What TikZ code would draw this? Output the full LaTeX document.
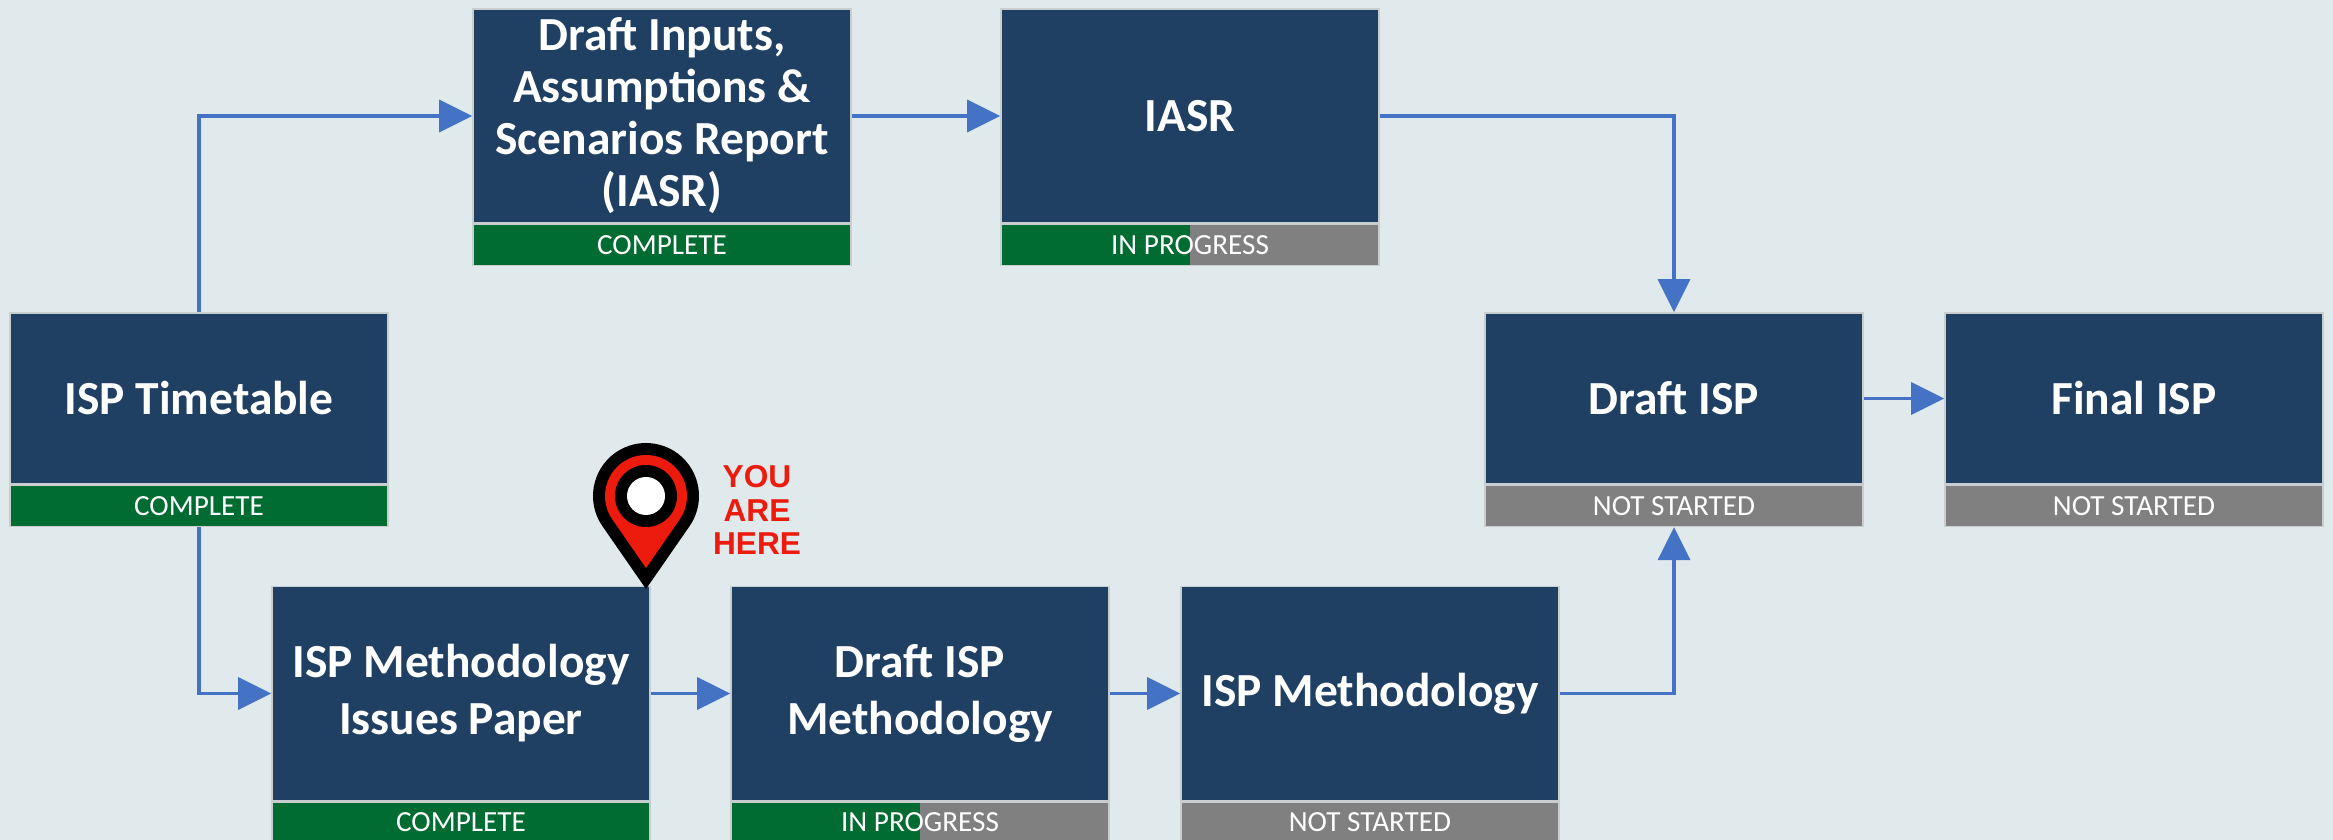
\documentclass[tikz,border=0pt]{standalone}
\usepackage{fontspec}
\setmainfont{Carlito}
\newfontfamily\heros{Liberation Sans}
\usepackage{tikz}
\usepackage{xcolor}
\usetikzlibrary{arrows.meta}
\definecolor{bgcol}{RGB}{224,233,235}
\definecolor{navy}{RGB}{31,64,99}
\definecolor{done}{RGB}{0,108,49}
\definecolor{todo}{RGB}{128,128,128}
\definecolor{flow}{RGB}{68,114,196}
\definecolor{pinred}{RGB}{237,27,13}
\definecolor{edge}{RGB}{200,205,208}

\begin{document}
\begin{tikzpicture}[x=0.01cm, y=0.01cm,
  stage/.style={fill=navy, draw=edge, line width=0.4pt, text=white, minimum width=3.78cm, align=center, inner sep=0pt, font=\fontsize{13.5}{16.2}\selectfont\bfseries},
  tall/.style={stage, minimum height=2.14cm},
  short/.style={stage, minimum height=1.71cm},
  status/.style={draw=edge, line width=0.4pt, text=white, minimum width=3.78cm, minimum height=0.41cm, anchor=north, inner sep=0pt, font=\fontsize{8.3}{10}\selectfont},
  complete/.style={status, fill=done},
  notstarted/.style={status, fill=todo},
  inprogress/.style={status, fill=todo, path picture={\fill[done] (path picture bounding box.south west) rectangle (path picture bounding box.north);}},
  link/.style={flow, line width=1pt, -{Triangle[length=9.4pt, width=9.1pt]}}]
\fill[bgcol] (0,0) rectangle (2333,840);
\useasboundingbox (0,0) rectangle (2333,840);

\node[short] (tt) at (199,441.5) {ISP Timetable};
\node[complete] (ttst) at (tt.south) {COMPLETE};
\node[tall, font=\fontsize{13.5}{14.8}\selectfont\bfseries] (diasr) at (662,724) {Draft Inputs,\\Assumptions \&\\Scenarios Report\\(IASR)};
\node[complete] (diasrst) at (diasr.south) {COMPLETE};
\node[tall] (iasr) at (1190,724) {IASR};
\node[inprogress] (iasrst) at (iasr.south) {IN PROGRESS};
\node[short] (disp) at (1674,441.5) {Draft ISP};
\node[notstarted] (dispst) at (disp.south) {NOT STARTED};
\node[short] (fisp) at (2134,441.5) {Final ISP};
\node[notstarted] (fispst) at (fisp.south) {NOT STARTED};
\node[tall] (paper) at (461,146.5) {ISP Methodology\\Issues Paper};
\node[complete] (paperst) at (paper.south) {COMPLETE};
\node[tall] (dmeth) at (920,146.5) {Draft ISP\\Methodology};
\node[inprogress] (dmethst) at (dmeth.south) {IN PROGRESS};
\node[tall] (meth) at (1370,146.5) {ISP Methodology};
\node[notstarted] (methst) at (meth.south) {NOT STARTED};

\draw[link] (tt.north) |- (diasr.west);
\draw[link] (diasr.east) -- (iasr.west);
\draw[link] (iasr.east) -| (disp.north);
\draw[link] (ttst.south) |- (paper.west);
\draw[link] (paper.east) -- (dmeth.west);
\draw[link] (dmeth.east) -- (meth.west);
\draw[link] (meth.east) -| (dispst.south);
\draw[link] (disp.east) -- (fisp.west);

\fill[black] (646,251) -- ([shift={(646,344)}]215.2:53) arc[start angle=215.2, end angle=-35.2, radius=53] -- cycle;
\fill[pinred] (646,272) -- ([shift={(646,344)}]214.7:41) arc[start angle=214.7, end angle=-34.7, radius=41] -- cycle;
\fill[black] (646,344) circle (31);
\fill[white] (646,344) circle (19);
\node[text=pinred, align=center, font=\heros\bfseries\fontsize{9}{9.6}\selectfont] (here) at (757,330) {YOU\\ARE\\HERE};
\end{tikzpicture}
\end{document}
